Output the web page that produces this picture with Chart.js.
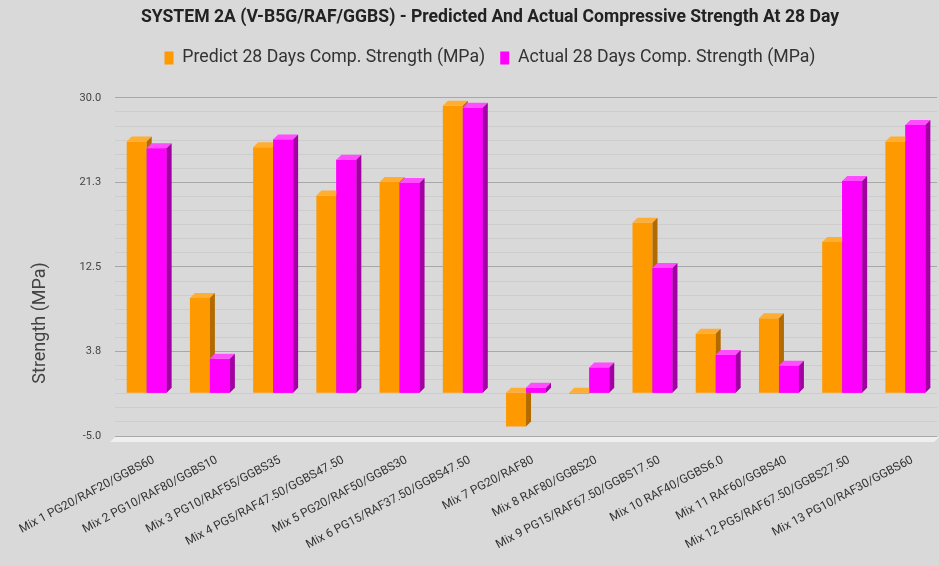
<!DOCTYPE html>
<html>
<head>
<meta charset="utf-8">
<title>System 2A compressive strength</title>
<script src="https://cdn.jsdelivr.net/npm/chart.js@4.4.1/dist/chart.umd.min.js"></script>
<style>
  html, body { margin: 0; padding: 0; background: #d9d9d9; }
  #wrap { width: 939px; height: 566px; }
  canvas { background: #d9d9d9; }
</style>
</head>
<body>
<div id="wrap"><canvas id="chart"></canvas></div>
<script>
// mixes and 28-day strengths (MPa)
const mixLabels = [
    'Mix 1 PG20/RAF20/GGBS60',
    'Mix 2 PG10/RAF80/GGBS10',
    'Mix 3 PG10/RAF55/GGBS35',
    'Mix 4 PG5/RAF47.50/GGBS47.50',
    'Mix 5 PG20/RAF50/GGBS30',
    'Mix 6 PG15/RAF37.50/GGBS47.50',
    'Mix 7 PG20/RAF80',
    'Mix 8 RAF80/GGBS20',
    'Mix 9 PG15/RAF67.50/GGBS17.50',
    'Mix 10 RAF40/GGBS6.0',
    'Mix 11 RAF60/GGBS40',
    'Mix 12 PG5/RAF67.50/GGBS27.50',
    'Mix 13 PG10/RAF30/GGBS60'
];
const predicted28 = [26.0, 9.8, 25.4, 20.4, 21.8, 29.7, -3.5, -0.1, 17.6, 6.1, 7.7, 15.6, 26.0];
const actual28 = [25.3, 3.5, 26.2, 24.1, 21.7, 29.5, 0.5, 2.6, 12.9, 3.9, 2.8, 21.9, 27.7];

const yTickValues = [-5, 3.75, 12.5, 21.25, 30];
const yTickLabels = ['-5.0', '3.8', '12.5', '21.3', '30.0'];
const minorSteps = 6; // faint lines between the labelled ones

const DEPTH = 5;

// cap / side colours for the fake 3d look
const faceColors = [
    { front: '#ff9900', top: '#ffad33', side: '#b36b00' },
    { front: '#ff00ff', top: '#ff4dff', side: '#a300a3' }
];

function buildYTicks() {
    const ticks = [];
    for (let k = 0; k < yTickValues.length; k++) {
        ticks.push({ value: yTickValues[k], major: true });
        if (k < yTickValues.length - 1) {
            const step = (yTickValues[k + 1] - yTickValues[k]) / minorSteps;
            for (let j = 1; j < minorSteps; j++) {
                ticks.push({ value: yTickValues[k] + j * step, major: false });
            }
        }
    }
    return ticks;
}

function drawFaces(ctx, bar, colors) {
    const p = bar.getProps(['x', 'y', 'base', 'width'], true);
    const left = p.x - p.width / 2;
    const right = p.x + p.width / 2;
    const top = Math.min(p.y, p.base);
    const bottom = Math.max(p.y, p.base);

    ctx.fillStyle = colors.top;
    ctx.beginPath();
    ctx.moveTo(left, top);
    ctx.lineTo(left + DEPTH, top - DEPTH);
    ctx.lineTo(right + DEPTH, top - DEPTH);
    ctx.lineTo(right, top);
    ctx.closePath();
    ctx.fill();

    ctx.fillStyle = colors.side;
    ctx.beginPath();
    ctx.moveTo(right, top);
    ctx.lineTo(right + DEPTH, top - DEPTH);
    ctx.lineTo(right + DEPTH, bottom - DEPTH);
    ctx.lineTo(right, bottom);
    ctx.closePath();
    ctx.fill();
}

const bars3d = {
    id: 'bars3d',
    beforeDatasetsDraw(chart) {
        const { ctx, chartArea } = chart;
        // light floor strip under the bottom grid line
        ctx.save();
        ctx.fillStyle = '#efefef';
        ctx.beginPath();
        ctx.moveTo(chartArea.left, chartArea.bottom + 1);
        ctx.lineTo(chartArea.right + 2, chartArea.bottom + 1);
        ctx.lineTo(chartArea.right + 2 - DEPTH, chartArea.bottom + 1 + DEPTH);
        ctx.lineTo(chartArea.left - DEPTH, chartArea.bottom + 1 + DEPTH);
        ctx.closePath();
        ctx.fill();
        ctx.restore();

        // bars sit in front of the back wall
        ctx.save();
        ctx.translate(0, DEPTH);
    },
    afterDatasetsDraw(chart) {
        const ctx = chart.ctx;
        // predicted faces first, then the actual bars again so they overlap them
        chart.getDatasetMeta(0).data.forEach(bar => drawFaces(ctx, bar, faceColors[0]));
        chart.getDatasetMeta(1).data.forEach(bar => {
            bar.draw(ctx);
            drawFaces(ctx, bar, faceColors[1]);
        });
        ctx.restore();

        // axis title, centred over plot plus label band
        const area = chart.chartArea;
        ctx.save();
        ctx.translate(40, (area.top + area.bottom) / 2 + 56);
        ctx.rotate(-Math.PI / 2);
        ctx.fillStyle = '#444';
        ctx.font = '18px Roboto';
        ctx.textAlign = 'center';
        ctx.textBaseline = 'middle';
        ctx.fillText('Strength (MPa)', 0, 0);
        ctx.restore();
    }
};

// extra room between legend and plot
const legendGap = {
    id: 'legendGap',
    beforeInit(chart) {
        const origFit = chart.legend.fit;
        chart.legend.fit = function fit() {
            origFit.bind(chart.legend)();
            this.height += 21;
        };
    }
};

const ctx = document.getElementById('chart').getContext('2d');
new Chart(ctx, {
    type: 'bar',
    data: {
        labels: mixLabels,
        datasets: [{
            label: 'Predict 28 Days Comp. Strength (MPa)',
            data: predicted28,
            backgroundColor: faceColors[0].front
        }, {
            label: 'Actual 28 Days Comp. Strength (MPa)',
            data: actual28,
            backgroundColor: faceColors[1].front
        }]
    },
    options: {
        responsive: true,
        maintainAspectRatio: false,
        animation: false,
        categoryPercentage: 0.632,
        barPercentage: 1.0,
        layout: { padding: { left: 43, right: 2, top: 0, bottom: 0 } },
        plugins: {
            title: {
                display: true,
                text: 'SYSTEM 2A (V-B5G/RAF/GGBS) - Predicted And Actual Compressive Strength At 28 Day',
                color: '#222',
                font: { family: 'Roboto', size: 17.6, weight: 'bold' },
                padding: { top: 7, bottom: 6 }
            },
            legend: {
                labels: {
                    color: '#333',
                    font: { family: 'Roboto', size: 17.7 },
                    boxWidth: 9,
                    boxHeight: 13,
                    padding: 15
                }
            },
            tooltip: { enabled: false }
        },
        scales: {
            x: {
                grid: { display: false },
                border: { display: false },
                ticks: {
                    color: '#333',
                    font: { family: 'Roboto', size: 12 },
                    minRotation: 28,
                    maxRotation: 28,
                    autoSkip: false,
                    padding: 9,
                    labelOffset: 7
                },
                afterFit(scale) { scale.height = 130; }
            },
            y: {
                min: -5,
                max: 30,
                border: { display: false },
                afterBuildTicks(scale) { scale.ticks = buildYTicks(); },
                grid: {
                    drawTicks: false,
                    color: c => (c.tick && c.tick.major) ? '#a8a8a8' : '#cdcdcd'
                },
                ticks: {
                    autoSkip: false,
                    color: '#444',
                    font: { family: 'Roboto', size: 11 },
                    padding: 14,
                    callback: (value, index) => index % minorSteps === 0 ? yTickLabels[index / minorSteps] : ''
                },
                afterFit(scale) { scale.width = 71; }
            }
        }
    },
    plugins: [bars3d, legendGap]
});
</script>
</body>
</html>
